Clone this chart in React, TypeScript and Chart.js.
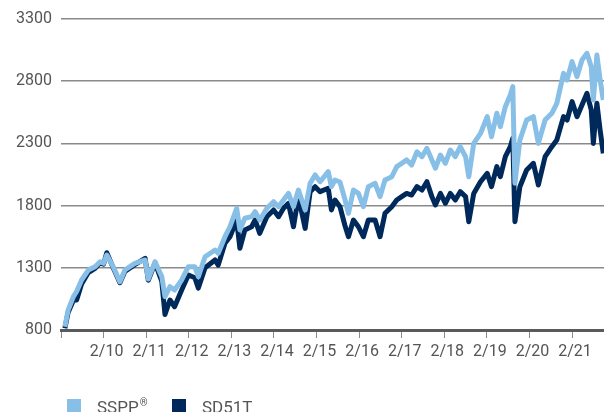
import React, { useEffect, useRef } from "react";
import { Chart, registerables } from "chart.js";

Chart.register(...registerables);

// x positions in months counted from Feb 2009
const months = [
  1.1, 2.0, 3.5, 4.4, 5.8, 7.7, 9.6, 11.0, 12.0, 12.9, 14.7, 16.6, 18.0, 20.8, 23.7, 24.6, 26.5, 28.4, 29.3, 30.7,
  32.0, 34.0, 35.9, 37.7, 38.7, 40.6, 43.4, 44.3, 46.2, 47.6, 49.5, 50.4, 51.8, 53.7, 54.7, 56.0, 58.0, 59.9, 61.3, 62.7,
  64.1, 65.5, 66.9, 68.8, 70.2, 71.6, 73.0, 75.3, 76.2, 77.2, 78.6, 80.0, 81.0, 82.4, 83.8, 85.2, 86.6, 88.5, 89.9, 91.3,
  93.2, 94.6, 96.0, 97.4, 98.8, 100.3, 101.7, 103.1, 104.5, 105.5, 106.9, 108.3, 109.7, 111.1, 112.5, 114.0, 114.9, 116.3, 118.2, 120.1,
  121.3, 122.8, 123.8, 125.2, 126.6, 127.3, 127.9, 129.3, 131.2, 133.1, 134.5, 136.4, 138.3, 139.7, 141.6, 142.6, 144.0, 145.4, 146.8, 148.2,
  149.4, 150.0, 151.0, 151.9, 152.8,
];

const sspp = [
  826, 960, 1068, 1110, 1202, 1282, 1309, 1349, 1336, 1403, 1309, 1188, 1282, 1336, 1363, 1210, 1349, 1229, 1068, 1148,
  1122, 1202, 1309, 1309, 1229, 1389, 1443, 1417, 1550, 1630, 1778, 1604, 1698, 1711, 1751, 1684, 1778, 1831, 1791, 1845,
  1898, 1791, 1925, 1765, 1979, 2046, 1992, 2073, 1952, 2006, 1990, 1850, 1738, 1925, 1898, 1791, 1952, 1979, 1872, 2006,
  2032, 2113, 2140, 2167, 2126, 2233, 2193, 2260, 2167, 2100, 2207, 2140, 2247, 2193, 2274, 2193, 2032, 2300, 2380, 2515,
  2354, 2542, 2435, 2595, 2689, 2756, 1980, 2327, 2488, 2515, 2300, 2488, 2542, 2622, 2863, 2810, 2957, 2837, 2971, 3024,
  2917, 2649, 3011, 2810, 2649,
];

const sd51t = [
  815, 940, 1040, 1041, 1170, 1262, 1295, 1340, 1330, 1421, 1300, 1180, 1270, 1325, 1376, 1200, 1340, 1190, 925, 1041,
  987, 1122, 1242, 1220, 1137, 1300, 1363, 1322, 1497, 1550, 1684, 1457, 1604, 1630, 1684, 1577, 1711, 1765, 1711, 1778,
  1818, 1630, 1872, 1617, 1912, 1952, 1912, 1939, 1765, 1845, 1791, 1640, 1550, 1684, 1630, 1550, 1684, 1684, 1550, 1738,
  1791, 1845, 1872, 1898, 1885, 1952, 1925, 1992, 1872, 1805, 1898, 1818, 1898, 1845, 1912, 1872, 1671, 1898, 1992, 2059,
  1952, 2113, 2032, 2193, 2274, 2341, 1671, 1952, 2086, 2140, 1966, 2193, 2274, 2327, 2515, 2488, 2636, 2515, 2609, 2703,
  2569, 2300, 2622, 2408, 2220,
];

const seriesNames = ["SSPP®", "SD51T"];
const seriesColors = ["#88BFE6", "#00295B"];

const xTickValues = [0, 12, 24, 36, 48, 60, 72, 84, 96, 108, 120, 132, 144];
const xTickLabels = ["", "2/10", "2/11", "2/12", "2/13", "2/14", "2/15", "2/16", "2/17", "2/18", "2/19", "2/20", "2/21"];
const yTickValues = [800, 1300, 1800, 2300, 2800, 3300];

const FONT = "Roboto, 'Noto Sans', 'DejaVu Sans', sans-serif";
const TEXT = "#555555";

const legendPlugin = {
  id: "bottomLegend",
  afterDraw(chart: any) {
    const ctx = chart.ctx;
    const items = [
      { box: 67, text: 97 },
      { box: 172, text: 202 },
    ];
    ctx.save();
    ctx.textBaseline = "alphabetic";
    ctx.textAlign = "left";
    chart.data.datasets.forEach((ds: any, i: number) => {
      const it = items[i];
      ctx.fillStyle = ds.borderColor;
      ctx.fillRect(it.box, 399, 14, 14);
      ctx.fillStyle = TEXT;
      const label: string = ds.label;
      const main = label.replace("®", "");
      ctx.font = `17px ${FONT}`;
      ctx.fillText(main, it.text, 413);
      if (label.includes("®")) {
        const w = ctx.measureText(main).width;
        ctx.font = `10px ${FONT}`;
        ctx.fillText("®", it.text + w + 1, 406);
      }
    });
    ctx.restore();
  },
};

export default function App() {
  const ref = useRef<HTMLCanvasElement | null>(null);

  useEffect(() => {
    if (!ref.current) return;
    const chart = new Chart(ref.current, {
      type: "line",
      data: {
        datasets: [
          {
            label: seriesNames[0],
            data: months.map((m, i) => ({ x: m, y: sspp[i] })),
            borderColor: seriesColors[0],
            backgroundColor: seriesColors[0],
            borderWidth: 5,
            pointRadius: 0,
            tension: 0,
            borderJoinStyle: "round",
          },
          {
            label: seriesNames[1],
            data: months.map((m, i) => ({ x: m, y: sd51t[i] })),
            borderColor: seriesColors[1],
            backgroundColor: seriesColors[1],
            borderWidth: 5,
            pointRadius: 0,
            tension: 0,
            borderJoinStyle: "round",
          },
        ],
      },
      options: {
        responsive: false,
        animation: false,
        layout: { padding: { top: 19, right: 0, bottom: 42, left: 0 } },
        plugins: {
          legend: { display: false },
          tooltip: { enabled: false },
        },
        scales: {
          x: {
            type: "linear",
            min: 0,
            max: 153,
            afterBuildTicks: (scale: any) => {
              scale.ticks = xTickValues.map((v) => ({ value: v }));
            },
            afterFit: (scale: any) => {
              scale.height = 40;
            },
            grid: {
              drawOnChartArea: false,
              drawTicks: true,
              tickLength: 8,
              color: "#8a8a8a",
              lineWidth: 1,
            },
            border: { display: true, color: "#5a5a5a", width: 3 },
            ticks: {
              autoSkip: false,
              maxRotation: 0,
              padding: 4,
              labelOffset: 3,
              color: TEXT,
              font: { family: FONT, size: 16 },
              callback: (value: any) => {
                const idx = xTickValues.indexOf(Number(value));
                return idx >= 0 ? xTickLabels[idx] : "";
              },
            },
          },
          y: {
            type: "linear",
            min: 800,
            max: 3300,
            afterBuildTicks: (scale: any) => {
              scale.ticks = yTickValues.map((v) => ({ value: v }));
            },
            afterFit: (scale: any) => {
              scale.width = 61;
            },
            grid: {
              drawTicks: false,
              color: "#8a8a8a",
              lineWidth: 1.5,
            },
            border: { display: false },
            ticks: {
              padding: 9,
              color: TEXT,
              font: { family: FONT, size: 16 },
              callback: (value: any) => String(value),
            },
          },
        },
      },
      plugins: [legendPlugin],
    } as any);
    return () => chart.destroy();
  }, []);

  return (
    <div style={{ position: "fixed", left: 0, top: 0, width: 604, height: 412, background: "#fff" }}>
      <canvas ref={ref} width={604} height={412} style={{ display: "block" }} />
    </div>
  );
}
